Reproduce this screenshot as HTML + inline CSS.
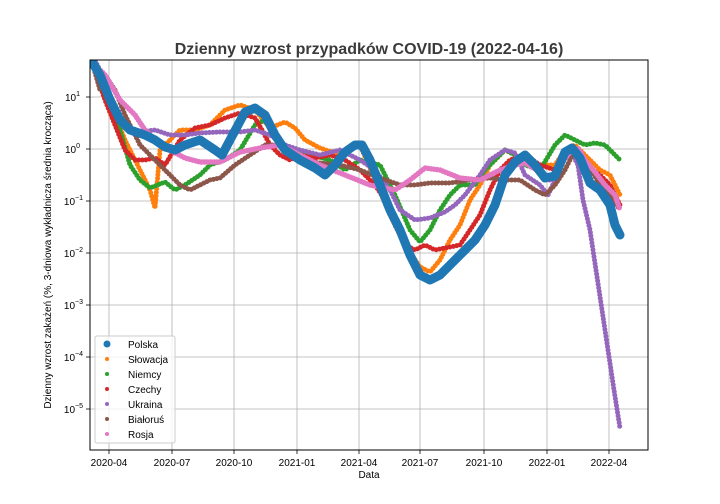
<!DOCTYPE html>
<html><head><meta charset="utf-8"><style>body{margin:0;background:#fff}svg{display:block;font-family:"Liberation Sans","DejaVu Sans",sans-serif}</style></head><body>
<svg width="720" height="504" viewBox="0 0 720 504" xmlns="http://www.w3.org/2000/svg">
<rect width="720" height="504" fill="#fff"/>
<defs><clipPath id="c"><rect x="90" y="60" width="558" height="390"/></clipPath></defs>
<g stroke="#b0b0b0" stroke-width="0.8">
<line x1="109" y1="60" x2="109" y2="450"/><line x1="172" y1="60" x2="172" y2="450"/><line x1="234" y1="60" x2="234" y2="450"/><line x1="297" y1="60" x2="297" y2="450"/><line x1="359" y1="60" x2="359" y2="450"/><line x1="420" y1="60" x2="420" y2="450"/><line x1="484" y1="60" x2="484" y2="450"/><line x1="547" y1="60" x2="547" y2="450"/><line x1="609" y1="60" x2="609" y2="450"/>
<line x1="90" y1="97" x2="648" y2="97"/><line x1="90" y1="149" x2="648" y2="149"/><line x1="90" y1="201" x2="648" y2="201"/><line x1="90" y1="253" x2="648" y2="253"/><line x1="90" y1="305" x2="648" y2="305"/><line x1="90" y1="357" x2="648" y2="357"/><line x1="90" y1="409" x2="648" y2="409"/>
</g>
<g clip-path="url(#c)" fill="none" stroke-linecap="round" stroke-linejoin="round">
<polyline stroke="#ff7f0e" stroke-width="5" stroke-dasharray="0 3.5" points="92,62 105,90 115,115 125,140 140,170 150,190 155,208 160,150 170,140 180,130 195,130 210,125 225,110 240,105 255,110 270,128 285,122 295,128 305,140 320,148 340,155 360,145 375,180 390,215 405,245 420,267 430,272 440,260 450,240 460,225 470,200 480,185 490,165 505,150 515,155 525,160 540,165 555,165 565,150 575,145 585,155 600,170 610,175 620,195"/>
<polyline stroke="#2ca02c" stroke-width="5" stroke-dasharray="0 3.5" points="92,62 105,90 120,130 130,165 140,180 150,188 165,182 175,190 185,185 200,175 210,165 225,160 240,150 255,125 265,120 280,145 295,150 310,155 330,160 345,170 360,160 380,165 395,195 410,230 420,242 430,230 440,210 450,195 460,185 475,185 485,170 495,160 505,150 515,155 525,165 540,170 555,145 565,135 575,140 585,145 595,143 605,145 620,160"/>
<polyline stroke="#d62728" stroke-width="5" stroke-dasharray="0 3.5" points="92,62 105,100 115,125 125,150 135,160 145,160 155,158 165,165 180,140 195,128 210,125 225,118 240,113 255,118 262,130 270,145 280,155 290,160 300,155 315,158 330,155 345,160 360,170 375,185 385,200 395,225 405,245 415,250 425,245 435,250 445,248 460,245 470,230 480,215 490,190 500,170 510,160 525,155 540,165 555,170 565,152 575,150 585,165 600,175 610,185 620,205"/>
<polyline stroke="#9467bd" stroke-width="5" stroke-dasharray="0 3.5" points="92,55 100,70 110,95 125,125 140,132 155,130 170,135 185,135 200,133 220,132 240,132 255,130 270,135 285,145 300,150 320,155 340,150 360,160 375,170 390,190 400,210 415,220 430,218 445,212 455,205 465,195 480,175 490,160 505,150 515,153 525,175 540,185 548,195 555,180 560,160 570,150 578,165 583,200 590,230 596,270 602,310 608,350 614,390 620,428"/>
<polyline stroke="#8c564b" stroke-width="5" stroke-dasharray="0 3.5" points="92,62 100,90 105,75 115,90 125,115 140,145 155,160 170,175 180,185 190,190 200,185 210,180 220,178 235,165 250,155 265,145 280,145 300,160 320,163 340,165 360,170 380,178 400,185 415,185 430,183 450,183 470,180 490,178 505,180 520,180 535,190 545,195 555,185 565,170 575,150 585,160 600,185 610,195 620,210"/>
<polyline stroke="#e377c2" stroke-width="5.5" stroke-dasharray="0 3" points="92,62 105,75 120,100 135,115 145,130 155,140 170,150 185,158 200,162 220,162 240,152 260,148 280,145 300,155 320,165 345,175 370,185 395,190 410,180 425,168 440,170 460,178 480,180 500,170 515,165 525,163 540,172 550,180 560,165 570,152 578,148 585,160 595,172 605,185 615,195 620,210"/>
<polyline stroke="#1f77b4" stroke-width="9" points="92,62 100,75 110,100 120,120 130,130 145,135 155,140 165,147 175,150 185,145 200,140 215,150 222,155 230,140 245,112 255,108 265,115 275,135 285,150 300,160 315,168 325,175 335,165 345,152 355,145 362,145 370,160 380,185 390,210 400,230 410,255 420,275 430,280 440,275 450,265 460,255 475,240 485,225 495,205 505,175 515,162 525,155 535,165 545,178 555,176 565,152 572,148 580,158 590,183 600,190 610,205 615,225 620,235"/>
</g>
<rect x="90" y="60" width="558" height="390" fill="none" stroke="#000" stroke-width="1"/>
<g stroke="#000" stroke-width="0.8">
<line x1="109" y1="450" x2="109" y2="454"/><line x1="172" y1="450" x2="172" y2="454"/><line x1="234" y1="450" x2="234" y2="454"/><line x1="297" y1="450" x2="297" y2="454"/><line x1="359" y1="450" x2="359" y2="454"/><line x1="420" y1="450" x2="420" y2="454"/><line x1="484" y1="450" x2="484" y2="454"/><line x1="547" y1="450" x2="547" y2="454"/><line x1="609" y1="450" x2="609" y2="454"/>
<line x1="86" y1="97" x2="90" y2="97"/><line x1="86" y1="149" x2="90" y2="149"/><line x1="86" y1="201" x2="90" y2="201"/><line x1="86" y1="253" x2="90" y2="253"/><line x1="86" y1="305" x2="90" y2="305"/><line x1="86" y1="357" x2="90" y2="357"/><line x1="86" y1="409" x2="90" y2="409"/>
</g>
<g font-size="10" fill="#000" text-anchor="middle">
<text x="109" y="466">2020-04</text><text x="172" y="466">2020-07</text><text x="234" y="466">2020-10</text><text x="297" y="466">2021-01</text><text x="359" y="466">2021-04</text><text x="420" y="466">2021-07</text><text x="484" y="466">2021-10</text><text x="547" y="466">2022-01</text><text x="609" y="466">2022-04</text>
</g>
<g font-size="10" fill="#000" text-anchor="end">
<text x="80" y="101">10<tspan font-size="7" dy="-5">1</tspan></text>
<text x="80" y="153">10<tspan font-size="7" dy="-5">0</tspan></text>
<text x="83" y="205">10<tspan font-size="7" dy="-5">−1</tspan></text>
<text x="83" y="257">10<tspan font-size="7" dy="-5">−2</tspan></text>
<text x="83" y="309">10<tspan font-size="7" dy="-5">−3</tspan></text>
<text x="83" y="361">10<tspan font-size="7" dy="-5">−4</tspan></text>
<text x="83" y="413">10<tspan font-size="7" dy="-5">−5</tspan></text>
</g>
<text x="369" y="54" font-size="16" font-weight="bold" fill="#3a3a3a" text-anchor="middle">Dzienny wzrost przypadków COVID-19 (2022-04-16)</text>
<text x="369" y="478" font-size="10" text-anchor="middle">Data</text>
<text transform="translate(51,255) rotate(-90)" font-size="10" text-anchor="middle">Dzienny wzrost zakażeń (%, 3-dniowa wykładnicza średnia krocząca)</text>
<rect x="95" y="336" width="80" height="107" fill="#fff" fill-opacity="0.8" stroke="#ccc" rx="2"/>
<g font-size="10">
<circle cx="107" cy="344" r="3.5" fill="#1f77b4"/><text x="128" y="348">Polska</text>
<circle cx="107" cy="359" r="2" fill="#ff7f0e"/><text x="128" y="363">Słowacja</text>
<circle cx="107" cy="374" r="2" fill="#2ca02c"/><text x="128" y="378">Niemcy</text>
<circle cx="107" cy="389" r="2" fill="#d62728"/><text x="128" y="393">Czechy</text>
<circle cx="107" cy="404" r="2" fill="#9467bd"/><text x="128" y="408">Ukraina</text>
<circle cx="107" cy="419" r="2" fill="#8c564b"/><text x="128" y="423">Białoruś</text>
<circle cx="107" cy="434" r="2" fill="#e377c2"/><text x="128" y="438">Rosja</text>
</g>
</svg>
</body></html>
